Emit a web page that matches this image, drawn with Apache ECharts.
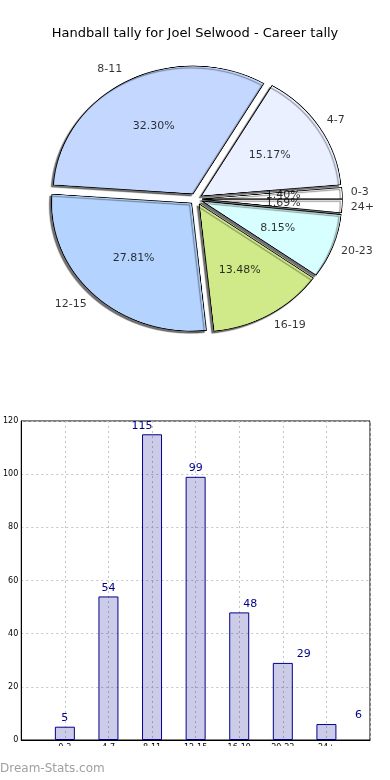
<!DOCTYPE html>
<html><head><meta charset="utf-8">
<script src="https://cdn.jsdelivr.net/npm/echarts@6/dist/echarts.min.js"></script>
<style>
html,body{margin:0;padding:0;background:#fff}
#wrap{position:relative;width:390px;height:780px}
#p{position:absolute;left:0;top:0;width:390px;height:400px;transform-origin:196px 199px;transform:scale(1.045,0.955)}
#c{position:absolute;left:0;top:0;width:390px;height:780px}
</style>
</head><body><div id="wrap"><div id="p"></div><div id="c"></div></div>
<script>
var categories = ['0-3', '4-7', '8-11', '12-15', '16-19', '20-23', '24+'];
var tally = [5, 54, 115, 99, 48, 29, 6];
var yTicks = [0, 20, 40, 60, 80, 100, 120];
var sliceColors = ['#ffffff', '#eaf0ff', '#c4d8ff', '#b4d4ff', '#d0ea8a', '#d8ffff', '#ffffff'];
var barLabelShift = [[0,0],[0,0],[-10,0],[0,0],[11,0],[21,0],[32,0]];

var total = tally.reduce(function(a,b){return a+b;},0);
var F = 'DejaVu Sans';
var R = 134, CX = 196, CY = 199, OFF = 6;
var RX = 140, RY = 128, SPAN = 1.5;
var PCT_DX = 0.68, PCT_DY = 0.645, NAME_DX = 1.2, NAME_DY = 1.145;

var acc = 0, mids = tally.map(function(v){ var m = acc + v/2; acc += v; return m/total*Math.PI*2; });

var pieOption = {
  animation:false,
  series:[{
    type:'pie', center:[CX,CY], radius:[0,R], startAngle:0, clockwise:false,
    selectedMode:'multiple', selectedOffset:OFF, animation:false,
    emphasis:{disabled:true}, label:{show:false}, labelLine:{show:false},
    itemStyle:{borderColor:'#000', borderWidth:0.8, shadowColor:'rgba(0,0,0,0.55)', shadowBlur:1, shadowOffsetX:-2, shadowOffsetY:2},
    data: categories.map(function(c,i){
      return {name:c, value:tally[i], selected:true, itemStyle:{color:sliceColors[i]}};
    })
  }]
};

var pctPts = categories.map(function(c,i){
  return {value:[Math.cos(mids[i])*PCT_DX, Math.sin(mids[i])*PCT_DY], name:(tally[i]/total*100).toFixed(2)+'%'};
});
var namePts = categories.map(function(c,i){
  var right = Math.cos(mids[i]) >= 0;
  return {value:[Math.cos(mids[i])*NAME_DX, Math.sin(mids[i])*NAME_DY], name:c, label:{align: right ? 'left' : 'right'}};
});

var option = {
  animation:false,
  title:{text:'Handball tally for Joel Selwood - Career tally', left:'center', top:22,
    textStyle:{fontFamily:F, fontSize:13, fontWeight:'normal', color:'#000'}},
  grid:[
    {left:18, right:20, top:421, bottom:40, show:true, borderColor:'#000', borderWidth:1},
    {left:CX-RX*SPAN, width:2*RX*SPAN, top:CY-RY*SPAN, height:2*RY*SPAN, show:false}
  ],
  xAxis:[
    {type:'value', min:0, max:8, interval:1, gridIndex:0,
      axisLine:{lineStyle:{color:'#000'}}, axisTick:{show:false},
      axisLabel:{fontFamily:F, fontSize:8, color:'#000', margin:4,
        formatter:function(v){ return (v>=1 && v<=7) ? categories[v-1] : ''; }},
      splitLine:{show:true, lineStyle:{color:'#c4c4c4', type:[2,3]}}},
    {type:'value', min:-SPAN, max:SPAN, gridIndex:1, show:false}
  ],
  yAxis:[
    {type:'value', min:yTicks[0], max:yTicks[yTicks.length-1], interval:yTicks[1]-yTicks[0], gridIndex:0,
      axisLine:{show:true, lineStyle:{color:'#000'}}, axisTick:{show:false},
      axisLabel:{fontFamily:F, fontSize:8, color:'#000', margin:3},
      splitLine:{show:true, lineStyle:{color:'#c4c4c4', type:[2,3]}}},
    {type:'value', min:-SPAN, max:SPAN, gridIndex:1, show:false}
  ],
  series:[
    {type:'bar', barWidth:20, z:1, xAxisIndex:0, yAxisIndex:0,
      data: tally.map(function(v,i){
        return {value:[i+1, v], label:{offset:barLabelShift[i]}};
      }),
      itemStyle:{color:'rgba(0,0,139,0.2)', borderColor:'#00008b', borderWidth:1},
      label:{show:true, position:'top', distance:3, fontFamily:F, fontSize:11, color:'#00008b',
        formatter:function(p){ return p.value[1]; }}
    },
    {type:'scatter', xAxisIndex:1, yAxisIndex:1, symbolSize:0, silent:true, clip:false, data:pctPts,
      label:{show:true, position:'inside', fontFamily:F, fontSize:11, color:'#000', formatter:'{b}'},
      labelLayout:{hideOverlap:false}},
    {type:'scatter', xAxisIndex:1, yAxisIndex:1, symbolSize:0, silent:true, clip:false, data:namePts,
      label:{show:true, position:'inside', fontFamily:F, fontSize:11, color:'#000', formatter:'{b}'},
      labelLayout:{hideOverlap:false}}
  ],
  graphic:[
    {type:'rect', shape:{x:0, y:746, width:390, height:14}, style:{fill:'#fff'}, z:100},
    {type:'text', left:0, top:763, z:101,
      style:{text:'Dream-Stats.com', font:'12px "DejaVu Sans"', fill:'#a0a0a0'}}
  ]
};
echarts.init(document.getElementById('p'), null, {renderer:'canvas', devicePixelRatio:2}).setOption(pieOption);
echarts.init(document.getElementById('c'), null, {renderer:'canvas'}).setOption(option);
</script></body></html>
